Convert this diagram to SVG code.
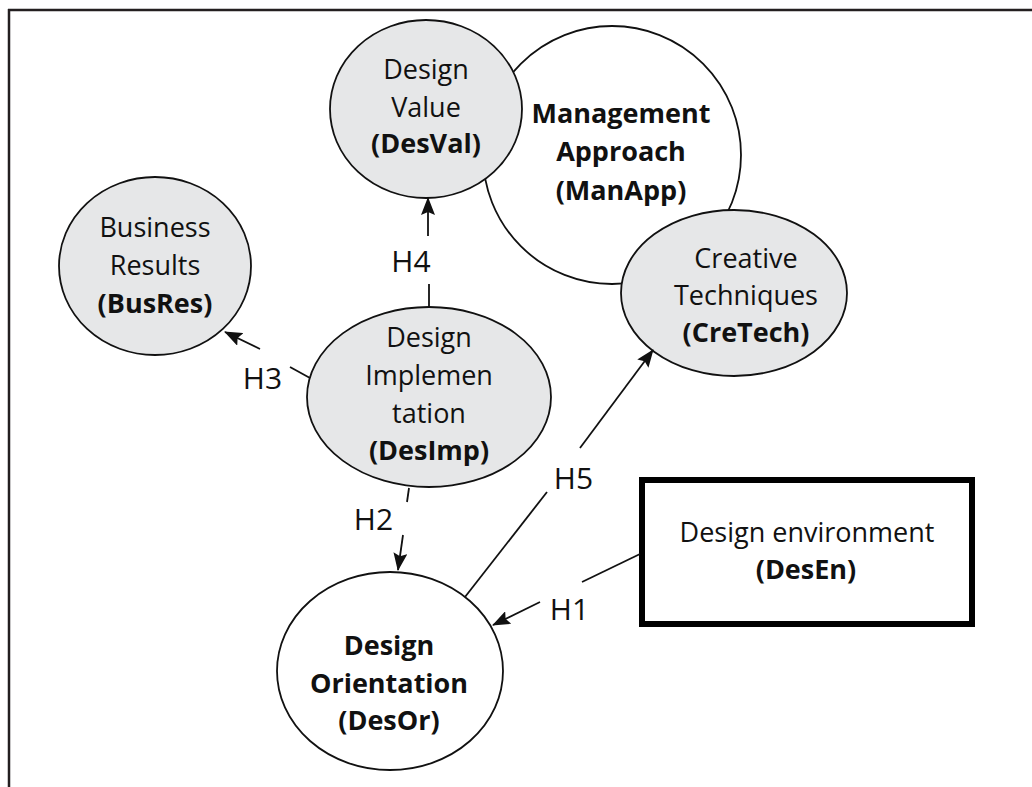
<svg xmlns="http://www.w3.org/2000/svg" width="1032" height="787" viewBox="0 0 1032 787">
<style>
.frame{stroke:#231f20;stroke-width:2.5;fill:none}
.grey{fill:#e6e7e8;stroke:#111;stroke-width:1.8}
.white{fill:#fff;stroke:#111;stroke-width:1.8}
.box{fill:#fff;stroke:#000;stroke-width:6}
.t{font-family:"Open Sans","Noto Sans",sans-serif;font-size:27px;fill:#111;text-anchor:middle}
.b{font-weight:bold}
.lbl{font-family:"Open Sans","Noto Sans",sans-serif;font-size:30px;fill:#111;text-anchor:middle}
.c{stroke:#111;stroke-width:1.8;fill:none}
</style>
<defs>
<marker id="arr" viewBox="0 0 18 14" refX="17" refY="7" markerWidth="18" markerHeight="14" markerUnits="userSpaceOnUse" orient="auto">
<path d="M0,0 L18,7 L0,14 L3,7 Z" fill="#111"/>
</marker>
</defs>
<rect width="1032" height="787" fill="#fff"/>
<g id="frame">
<line class="frame" x1="8" y1="10" x2="1032" y2="10"/>
<line class="frame" x1="9" y1="9" x2="9" y2="787"/>
</g>
<g id="ManApp">
<circle class="white" cx="612" cy="155" r="129"/>
<text class="t b" x="621" y="123">Management</text>
<text class="t b" x="621" y="161">Approach</text>
<text class="t b" x="621" y="200">(ManApp)</text>
</g>
<g id="DesVal">
<ellipse class="grey" cx="426" cy="109" rx="96" ry="89"/>
<text class="t" x="426" y="79">Design</text>
<text class="t" x="426" y="117">Value</text>
<text class="t b" x="426" y="153">(DesVal)</text>
</g>
<g id="CreTech">
<ellipse class="grey" cx="734" cy="293" rx="113" ry="83"/>
<text class="t" x="746" y="268">Creative</text>
<text class="t" x="746" y="305">Techniques</text>
<text class="t b" x="746" y="342">(CreTech)</text>
</g>
<g id="BusRes">
<ellipse class="grey" cx="155" cy="266" rx="96" ry="89"/>
<text class="t" x="155" y="237">Business</text>
<text class="t" x="155" y="275">Results</text>
<text class="t b" x="155" y="313">(BusRes)</text>
</g>
<g id="DesImp">
<ellipse class="grey" cx="429" cy="397" rx="122" ry="90"/>
<text class="t" x="429" y="347">Design</text>
<text class="t" x="429" y="385">Implemen</text>
<text class="t" x="429" y="423">tation</text>
<text class="t b" x="429" y="460">(DesImp)</text>
</g>
<g id="DesOr">
<ellipse class="white" cx="390" cy="671" rx="113" ry="99"/>
<text class="t b" x="389" y="655">Design</text>
<text class="t b" x="389" y="693">Orientation</text>
<text class="t b" x="389" y="730">(DesOr)</text>
</g>
<g id="DesEn">
<rect class="box" x="642" y="480" width="330" height="144"/>
<text class="t" x="807" y="542">Design environment</text>
<text class="t b" x="806" y="579">(DesEn)</text>
</g>
<g id="connectors">
<line class="c" x1="640" y1="554" x2="582" y2="582"/>
<line class="c" x1="540" y1="602" x2="493" y2="625" marker-end="url(#arr)"/>
<line class="c" x1="409" y1="488" x2="407" y2="502"/>
<line class="c" x1="403" y1="535" x2="398" y2="570" marker-end="url(#arr)"/>
<line class="c" x1="310" y1="378" x2="290" y2="367"/>
<line class="c" x1="260" y1="349" x2="225" y2="332" marker-end="url(#arr)"/>
<line class="c" x1="429" y1="307" x2="429" y2="284"/>
<line class="c" x1="428" y1="236" x2="428" y2="198" marker-end="url(#arr)"/>
<line class="c" x1="465" y1="597" x2="547" y2="492"/>
<line class="c" x1="580" y1="448" x2="653" y2="350" marker-end="url(#arr)"/>
<text class="lbl" x="569.5" y="620">H1</text>
<text class="lbl" x="373.5" y="530">H2</text>
<text class="lbl" x="262.5" y="389">H3</text>
<text class="lbl" x="411" y="272">H4</text>
<text class="lbl" x="573.5" y="489">H5</text>
</g>
</svg>
